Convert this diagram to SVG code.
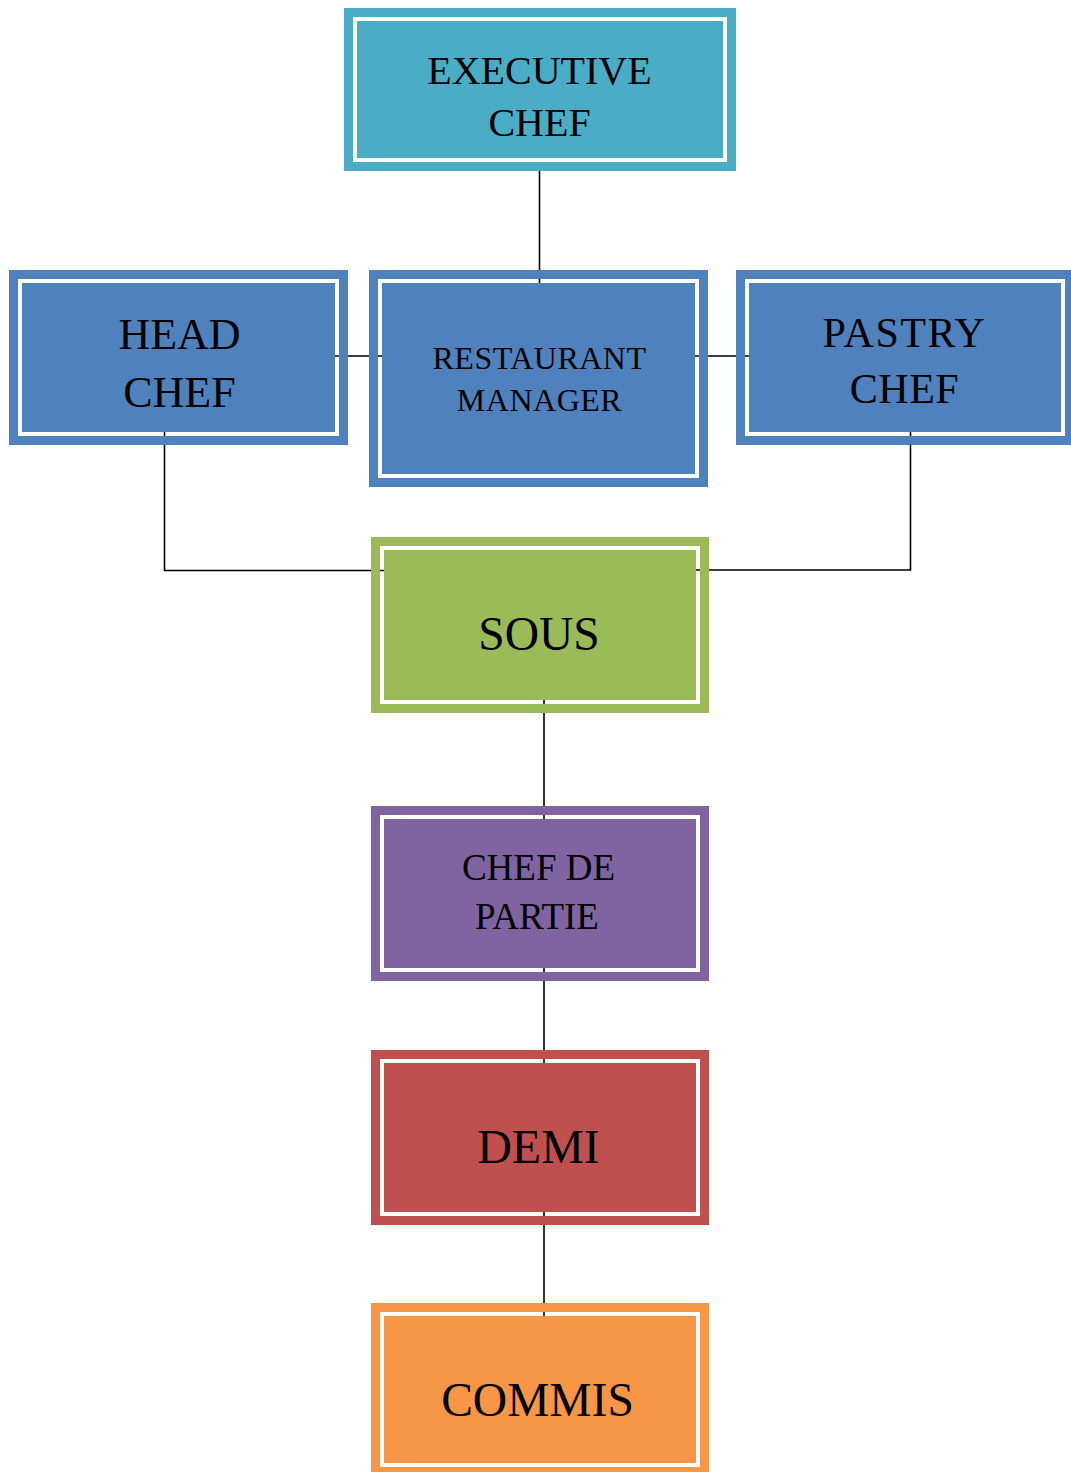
<svg xmlns="http://www.w3.org/2000/svg" width="1071" height="1472" viewBox="0 0 1071 1472">
<style>
.ring{fill:none;stroke-width:9}
.t{font-family:"Liberation Serif","Times New Roman",serif;fill:#000;text-anchor:middle}
.c{fill:none;stroke:#000;stroke-width:1.6}
</style>
<rect width="1071" height="1472" fill="#fff"/>
<g id="connectors">
<line class="c" x1="539.5" y1="165" x2="539.5" y2="290"/>
<line class="c" x1="330" y1="356" x2="760" y2="356"/>
<polyline class="c" points="164.5,425 164.5,570.5 390,570.5"/>
<polyline class="c" points="690,570 910.5,570 910.5,425"/>
<line class="c" x1="544" y1="695" x2="544" y2="825"/>
<line class="c" x1="544" y1="960" x2="544" y2="1070"/>
<line class="c" x1="544" y1="1205" x2="544" y2="1322"/>
</g>
<g id="executive-chef">
<rect class="ring" x="348.5" y="12.5" width="383" height="154" stroke="#4BACC6"/>
<rect x="357" y="21" width="366" height="137" fill="#4BACC6"/>
<text class="t" x="539.5" y="83.5" font-size="40">EXECUTIVE</text>
<text class="t" x="539.5" y="135.5" font-size="40">CHEF</text>
</g>
<g id="head-chef">
<rect class="ring" x="13.5" y="274.5" width="330" height="166" stroke="#4F81BD"/>
<rect x="22" y="283" width="313" height="149" fill="#4F81BD"/>
<text class="t" x="179.5" y="348.5" font-size="44">HEAD</text>
<text class="t" x="179.5" y="406.5" font-size="44">CHEF</text>
</g>
<g id="restaurant-manager">
<rect class="ring" x="373.5" y="274.5" width="330" height="208" stroke="#4F81BD"/>
<rect x="382" y="283" width="313" height="191" fill="#4F81BD"/>
<text class="t" x="539.5" y="368.5" font-size="32" letter-spacing="0.5">RESTAURANT</text>
<text class="t" x="539.5" y="410.5" font-size="32" letter-spacing="0.5">MANAGER</text>
</g>
<g id="pastry-chef">
<rect class="ring" x="740.5" y="274.5" width="329" height="166" stroke="#4F81BD"/>
<rect x="749" y="283" width="312" height="149" fill="#4F81BD"/>
<text class="t" x="904.5" y="346.5" font-size="42" letter-spacing="1.5">PASTRY</text>
<text class="t" x="904.5" y="402.5" font-size="42" letter-spacing="0.5">CHEF</text>
</g>
<g id="sous">
<rect class="ring" x="375.5" y="541.5" width="329" height="167" stroke="#9BBB59"/>
<rect x="384" y="550" width="312" height="150" fill="#9BBB59"/>
<text class="t" x="539" y="650" font-size="47.5">SOUS</text>
</g>
<g id="chef-de-partie">
<rect class="ring" x="375.5" y="810.5" width="329" height="166" stroke="#8064A2"/>
<rect x="384" y="819" width="312" height="149" fill="#8064A2"/>
<text class="t" x="538.5" y="880" font-size="37">CHEF DE</text>
<text class="t" x="537" y="928.5" font-size="37">PARTIE</text>
</g>
<g id="demi">
<rect class="ring" x="375.5" y="1054.5" width="329" height="166" stroke="#C0504D"/>
<rect x="384" y="1063" width="312" height="149" fill="#C0504D"/>
<text class="t" x="538.5" y="1162.5" font-size="48">DEMI</text>
</g>
<g id="commis">
<rect class="ring" x="375.5" y="1307.5" width="329" height="164" stroke="#F79646"/>
<rect x="384" y="1316" width="312" height="147" fill="#F79646"/>
<text class="t" x="537.5" y="1416" font-size="47.5">COMMIS</text>
</g>
</svg>
